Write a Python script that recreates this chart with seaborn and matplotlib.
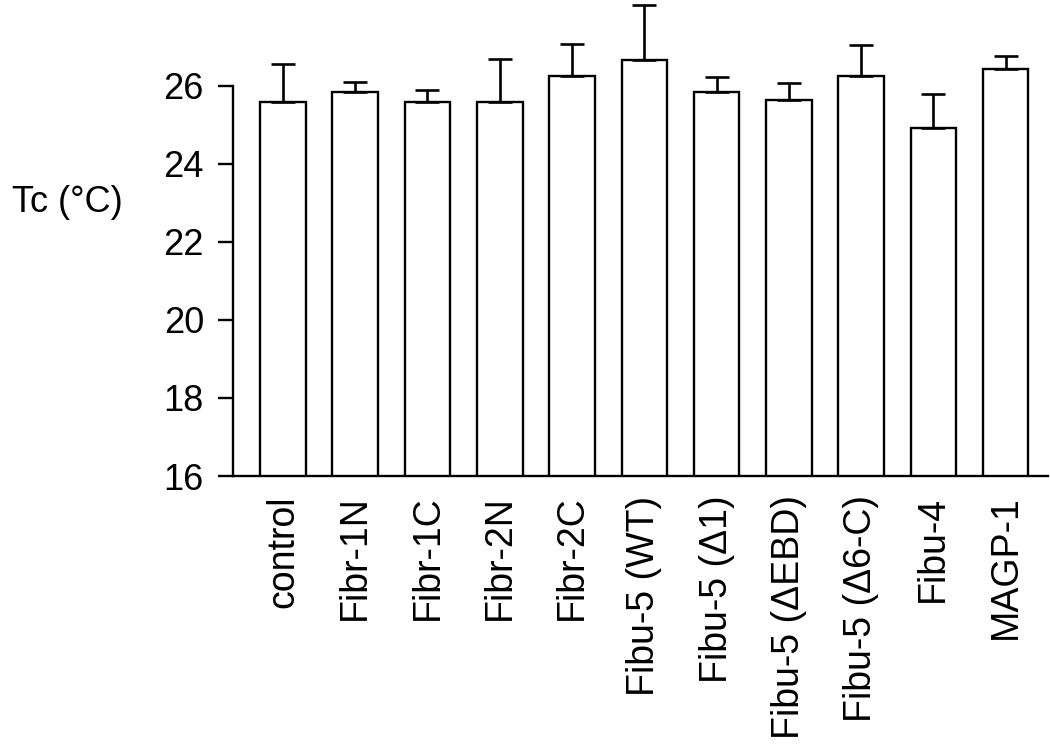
import numpy as np
import matplotlib
matplotlib.use("Agg")
import matplotlib.pyplot as plt
import seaborn as sns

sns.set_style("white")
plt.rcParams['font.family'] = ['Liberation Sans', 'DejaVu Sans']

# 数据：各样品的 Tc 平均值和误差（向上）
labels = ["control", "Fibr-1N", "Fibr-1C", "Fibr-2N", "Fibr-2C", "Fibu-5 (WT)",
          "Fibu-5 (\u03941)", "Fibu-5 (\u0394EBD)", "Fibu-5 (\u03946-C)", "Fibu-4", "MAGP-1"]
tc_mean = [25.59, 25.85, 25.59, 25.59, 26.26, 26.66, 25.85, 25.63, 26.24, 24.91, 26.44]
tc_err = [0.96, 0.25, 0.30, 1.11, 0.82, 1.42, 0.37, 0.44, 0.80, 0.87, 0.32]

fig = plt.figure(figsize=(10.5, 7.44), dpi=100)
ax = fig.add_axes([0.222, 0.3602, 0.776, 0.6398])

sns.barplot(x=labels, y=tc_mean, color="white", edgecolor="black",
            linewidth=1.7, width=0.63, errorbar=None, ax=ax)
for p in ax.patches:
    p.set_facecolor("white")

pos = np.arange(len(labels))
ax.errorbar(pos, tc_mean, yerr=[np.zeros(len(tc_err)), tc_err], fmt="none",
            ecolor="black", elinewidth=1.9, capsize=8.5, capthick=1.9, zorder=1)

ax.set_ylim(16, 28.2)
ax.set_xlim(-0.69, 10.585)
ax.set_yticks([16, 18, 20, 22, 24, 26])

sns.despine(ax=ax)
ax.spines["left"].set_bounds(16, 26)
for s in ["left", "bottom"]:
    ax.spines[s].set_linewidth(1.7)
    ax.spines[s].set_color("black")

ax.tick_params(axis="y", direction="out", length=11, width=1.7, pad=10,
               labelsize=26, left=True, colors="black", labelcolor="black")
ax.tick_params(axis="x", length=0, pad=14, labelsize=27, labelcolor="black")
plt.setp(ax.get_xticklabels(), rotation=90, ha="center", va="top")

ax.set_ylabel("Tc (\u00b0C)", rotation=0, fontsize=26, color="black",
              ha="right", va="center")
ax.yaxis.set_label_coords(-0.136, 0.574)

fig.savefig("out.png", dpi=100)
